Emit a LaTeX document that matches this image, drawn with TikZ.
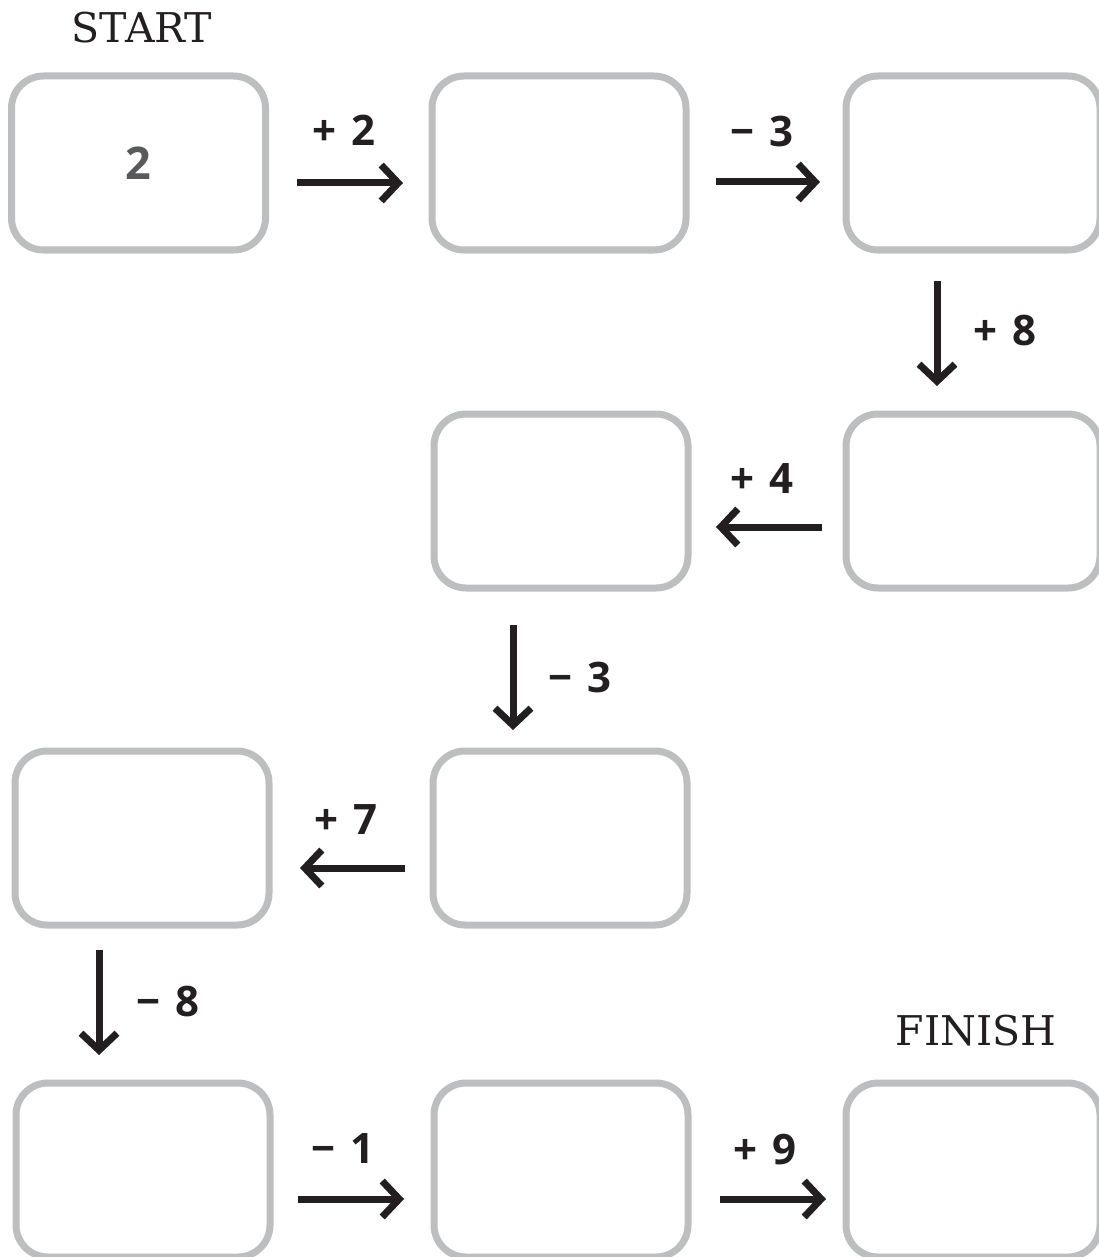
\documentclass[tikz,border=0pt]{standalone}
\usepackage{fontspec}
\newfontfamily\labfont{Open Sans}
\newfontfamily\slabfont{DejaVu Serif}
\usetikzlibrary{arrows.meta}
\definecolor{boxgray}{HTML}{BCBEC0}
\definecolor{ink}{HTML}{231F20}
\definecolor{numgray}{HTML}{58595B}
\tikzset{
  box/.style={draw=boxgray, line width=7pt, rounded corners=32pt, minimum width=254pt, minimum height=174pt, inner sep=0pt, outer sep=0pt, fill=white, text=numgray, font=\labfont\bfseries\fontsize{45}{50}\selectfont},
  arr/.style={draw=ink, line width=7pt, -{Straight Barb[length=17pt,width=36pt,line join=miter]}},
  oplabel/.style={text=ink, font=\labfont\bfseries\fontsize{42}{46}\selectfont, inner sep=0pt},
  title/.style={text=ink, font=\slabfont\fontsize{41}{46}\selectfont, inner sep=0pt}
}
\newcommand{\gapsp}{\hspace{0.36em}}
\begin{document}
\begin{tikzpicture}[x=1pt,y=-1pt]
\useasboundingbox (0,0) rectangle (1099,1257);
\clip (0,0) rectangle (1099,1257);
\node[title] (start) at (142,28) {START};
\node[title] (finish) at (976,1031) {FINISH};
\node[box] (A) at (138.5,163) {2};
\node[box] (B) at (559,163) {};
\node[box] (C) at (973,163) {};
\node[box] (D) at (561,501) {};
\node[box] (E) at (973,501) {};
\node[box] (F) at (142,838) {};
\node[box] (G) at (560,838) {};
\node[box] (H) at (143,1170) {};
\node[box] (I) at (561,1170) {};
\node[box] (J) at (973,1170) {};
% connectors
\draw[arr] ([shift={(31.5,20)}]A.east) -- ([shift={(-29,20)}]B.west);
\draw[arr] ([shift={(30,19)}]B.east) -- ([shift={(-26,19)}]C.west);
\draw[arr] ([shift={(-36,31)}]C.south) -- ([shift={(-36,-28)}]E.north);
\draw[arr] ([shift={(-24,26)}]E.west) -- ([shift={(28,26)}]D.east);
\draw[arr] ([shift={(-48,37)}]D.south) -- ([shift={(-47,-21)}]G.north);
\draw[arr] ([shift={(-28,30)}]G.west) -- ([shift={(31,30)}]F.east);
\draw[arr] ([shift={(-43,25)}]F.south) -- ([shift={(-44,-28)}]H.north);
\draw[arr] ([shift={(28,29)}]H.east) -- ([shift={(-30,29)}]I.west);
\draw[arr] ([shift={(32,29)}]I.east) -- ([shift={(-20,29)}]J.west);
% labels
\node[oplabel] (l1) at (344,130) {+\gapsp2};
\node[oplabel] (l2) at (762,132) {−\gapsp3};
\node[oplabel] (l3) at (1005,331) {+\gapsp8};
\node[oplabel] (l4) at (762,479) {+\gapsp4};
\node[oplabel] (l5) at (580,677) {−\gapsp3};
\node[oplabel] (l6) at (346,820) {+\gapsp7};
\node[oplabel] (l7) at (168,1002) {−\gapsp8};
\node[oplabel] (l8) at (343,1148) {−\gapsp1};
\node[oplabel] (l9) at (765,1150) {+\gapsp9};
\end{tikzpicture}
\end{document}
